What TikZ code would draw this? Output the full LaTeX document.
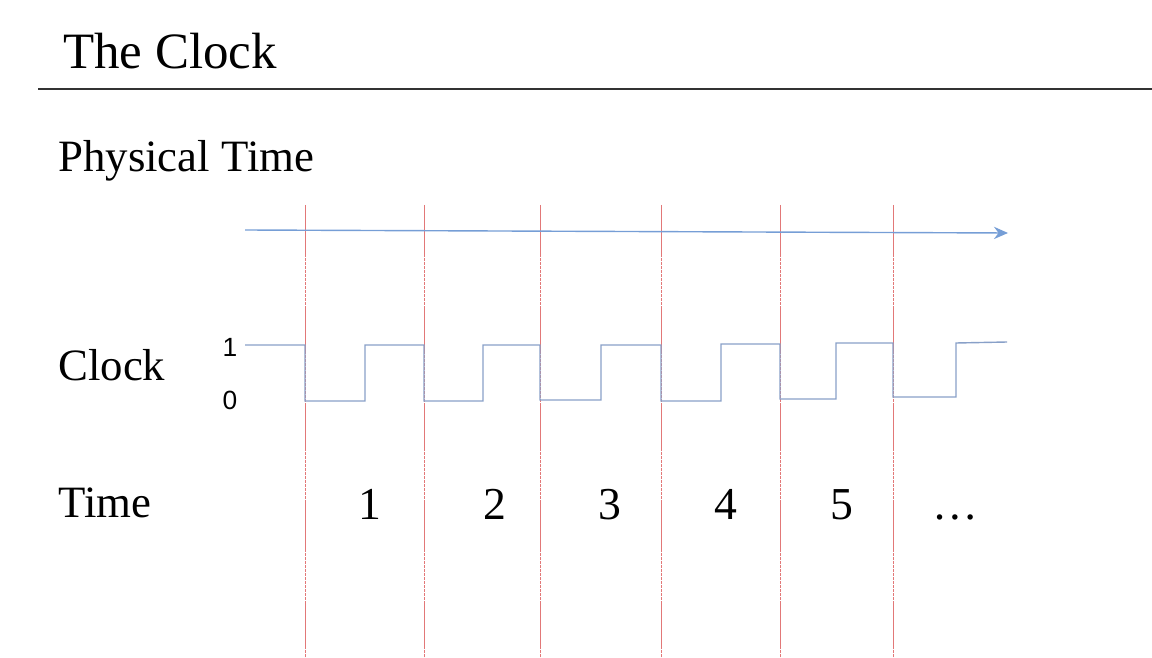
\documentclass[tikz,border=0pt]{standalone}
\usepackage{fontspec}
\setmainfont{Liberation Serif}
\newfontfamily\labelsans{Liberation Sans}
\usetikzlibrary{arrows.meta}

\definecolor{axisblue}{RGB}{118,158,214}
\definecolor{clockblue}{RGB}{136,160,200}
\definecolor{tickred}{RGB}{226,120,120}

\begin{document}
\begin{tikzpicture}[x=0.02cm, y=-0.02cm, >=Stealth,
    title/.style={anchor=base west, inner sep=0pt, font=\fontsize{29}{33}\selectfont},
    rowlabel/.style={anchor=base west, inner sep=0pt, font=\fontsize{25.5}{30}\selectfont},
    level/.style={inner sep=0pt, font=\labelsans\fontsize{15}{17}\selectfont},
    num/.style={anchor=base, inner sep=0pt, font=\fontsize{26}{30}\selectfont},
    edge/.style={tickred, line width=0.5pt, dash pattern=on 2pt off 0.3pt}]
  \useasboundingbox (0,0) rectangle (1152,658);
  % heading
  \node[title] (head) at (63,69) {The Clock};
  \draw[line width=1.2pt, black!80] (38,89) -- (1152,89);
  % row labels
  \node[rowlabel] (phys) at (58,172) {Physical Time};
  \node[rowlabel] (clk) at (58,380) {Clock};
  \node[rowlabel] (tim) at (58,517) {Time};
  \node[level] (one) at (230,347) {1};
  \node[level] (zero) at (230,400) {0};
  % falling edges
  \foreach \x in {305,424,540,661,780,893}{
    \draw[edge] (\x,205) -- (\x,658);
  }
  % physical time axis
  \coordinate (tstart) at (245,230);
  \coordinate (tend) at (1008,233);
  \draw[axisblue, line width=0.8pt, -{Stealth[length=8pt, width=7pt]}] (tstart) -- (tend);
  % clock signal
  \draw[clockblue, line width=0.8pt]
    (245,345) -- (305,345) -- (305,401) -- (365,401) -- (365,345)
    -- (424,345) -- (424,401) -- (483,401) -- (483,345)
    -- (540,345) -- (540,400) -- (601,400) -- (601,345)
    -- (661,345) -- (661,401) -- (721,401) -- (721,344)
    -- (780,344) -- (780,399) -- (836,399) -- (836,343)
    -- (893,343) -- (893,397) -- (956,397) -- (956,343) -- (1007,342);
  % cycle numbers
  \foreach \x/\t in {370/1,495/2,610/3,726/4,842/5}{
    \node[num] (n\t) at (\x,519) {\t};
  }
  \node[num] (more) at (955,519) {\ldots};
\end{tikzpicture}
\end{document}
